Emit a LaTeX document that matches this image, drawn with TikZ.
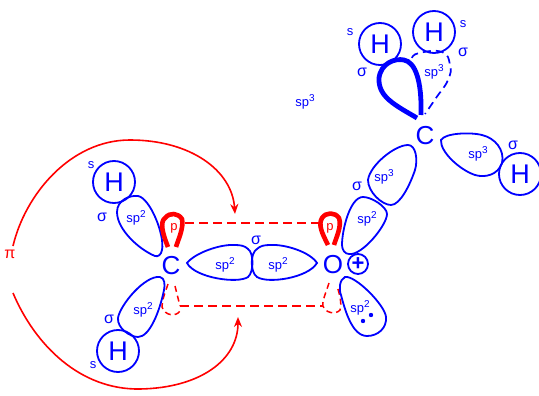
\documentclass[tikz,border=0pt]{standalone}
\usepackage{fontspec}
\setmainfont{Liberation Sans}
\usetikzlibrary{arrows.meta}
\definecolor{bl}{RGB}{0,0,255}
\definecolor{rd}{RGB}{255,0,0}
\tikzset{
 x=1pt,y=-1pt,
 lobe/.style={draw=bl,line width=1.8pt},
 hatom/.style={circle,draw=bl,line width=1.8pt,minimum size=42pt,inner sep=0pt,text=bl,font=\fontsize{27}{27}\selectfont},
 atom/.style={inner sep=0pt,text=bl,font=\fontsize{26}{26}\selectfont},
 small/.style={inner sep=0pt,text=bl,font=\fontsize{13}{13}\selectfont},
 sig/.style={inner sep=0pt,text=bl,font=\fontsize{16}{16}\selectfont},
 pred/.style={inner sep=0pt,text=rd,font=\fontsize{13}{13}\selectfont},
 plobe/.style={draw=rd,line width=4.6pt,line join=round},
 dash red/.style={draw=rd,line width=1.5pt,dash pattern=on 9pt off 5pt},
 dash blue/.style={draw=bl,line width=1.7pt,dash pattern=on 8pt off 5pt},
 curve/.style={draw=rd,line width=1.6pt,-{Stealth[length=10pt,width=8pt]}},
}
\newcommand{\spt}{sp\raisebox{0.35em}{\fontsize{10}{10}\selectfont 2}}
\newcommand{\spd}{sp\raisebox{0.35em}{\fontsize{10}{10}\selectfont 3}}
\begin{document}
\begin{tikzpicture}
\useasboundingbox (0,0) rectangle (539,396);
% coordinates for connectors
\coordinate (ul) at (185,223); \coordinate (ur) at (320,223);
\coordinate (ll) at (180,306); \coordinate (lr) at (323,306);
\coordinate (ta) at (235,214); \coordinate (tb) at (238,317);
\coordinate (s1) at (13,246); \coordinate (s2) at (13,293);
% dashed lobes behind
\draw[dash blue] plot[smooth,tension=0.8] coordinates {(412,58) (419,53) (442,52) (450,65) (448,80) (436,98) (425,114)};
\draw[dash red,dash pattern=on 6pt off 4pt] (329,283) .. controls (325,295) and (322,302) .. (323,306) .. controls (325,313) and (336,315) .. (340,310) .. controls (342,305) and (340,295) .. (337,286);
\draw[dash red,dash pattern=on 6pt off 4pt] (168,284) .. controls (165,293) and (162,300) .. (162,307) .. controls (165,316) and (176,317) .. (180,311);
\draw[dash red,dash pattern=on 6pt off 4pt] (175,286) -- (180,306);
% lobes
\draw[lobe] (155,256) .. controls (140,250) and (117,230) .. (117,212) .. controls (117,200) and (130,195) .. (138,196) .. controls (150,198) and (165,235) .. (162,250) .. controls (161,255) and (158,257) .. (155,256) -- cycle;
\draw[lobe] (160,277) .. controls (165,278) and (165,285) .. (164,290) .. controls (160,310) and (150,337) .. (138,337) .. controls (130,337) and (117,328) .. (118,318) .. controls (120,305) and (145,275) .. (160,277) -- cycle;
\draw[lobe] (187,263) .. controls (195,253) and (220,244) .. (235,245) .. controls (241,245) and (245,246) .. (248,249) .. controls (254,253) and (254,272) .. (248,277) .. controls (238,284) and (195,278) .. (187,263) -- cycle;
\draw[lobe] (317,263) .. controls (310,252) and (285,244) .. (270,245) .. controls (264,245) and (260,246) .. (257,249) .. controls (250,253) and (250,272) .. (257,277) .. controls (268,284) and (308,278) .. (317,263) -- cycle;
\draw[lobe] (342,245) .. controls (342,230) and (350,197) .. (363,197) .. controls (372,197) and (387,207) .. (387,214) .. controls (387,225) and (362,256) .. (349,254) .. controls (345,254) and (342,250) .. (342,245) -- cycle;
\draw[lobe] (345,277) .. controls (339,280) and (339,290) .. (341,295) .. controls (345,310) and (352,336) .. (367,336) .. controls (378,336) and (387,328) .. (386,317) .. controls (385,305) and (355,275) .. (345,277) -- cycle;
\draw[lobe] (408,145) .. controls (416,145) and (418,160) .. (415,170) .. controls (410,185) and (400,205) .. (391,205) .. controls (382,205) and (368,192) .. (368,180) .. controls (370,165) and (395,145) .. (408,145) -- cycle;
\draw[lobe] (441,140) .. controls (445,133) and (470,132) .. (482,135) .. controls (495,138) and (505,150) .. (502,163) .. controls (498,175) and (485,178) .. (475,175) .. controls (460,170) and (440,152) .. (441,140) -- cycle;
% thick lobes
\draw[draw=bl,line width=4.8pt] (417,118) .. controls (395,105) and (378,97) .. (379,78) .. controls (381,63) and (395,58) .. (404,60) .. controls (415,62) and (422,80) .. (421,115);
\draw[plobe] (168,247) .. controls (162,232) and (160,222) .. (165,218) .. controls (170,212) and (178,213) .. (182,219) .. controls (184,228) and (178,240) .. (176,247);
\draw[plobe] (328,245) .. controls (322,233) and (318,225) .. (322,218) .. controls (326,212) and (335,212) .. (339,218) .. controls (342,226) and (336,238) .. (334,245);
% dashed bonds
\draw[dash red] (ul) -- (ur);
\draw[dash red] (ll) -- (lr);
% H atoms
\node[hatom] (h1) at (380,44) {H};
\node[hatom] (h2) at (434,32) {H};
\node[hatom] (h3) at (520,174) {H};
\node[hatom] (h4) at (114,182) {H};
\node[hatom] (h5) at (118,351) {H};
% heavy atoms
\node[atom] (c1) at (425,136) {C};
\node[atom] (c2) at (171,266) {C};
\node[atom] (o1) at (333,265) {O};
\node[circle,draw=bl,line width=1.8pt,minimum size=20pt,inner sep=0pt,text=bl,font=\bfseries\fontsize{22}{22}\selectfont] (plus) at (358,264) {+};
% lobes labels
\node[small] (t1) at (434,72) {\spd};
\node[small] (t2) at (305,102) {\spd};
\node[small] (t3) at (478,154) {\spd};
\node[small] (t4) at (384,177) {\spd};
\node[small] (t5) at (367,219) {\spt};
\node[small] (t6) at (225,265) {\spt};
\node[small] (t7) at (278,265) {\spt};
\node[small] (t8) at (136,218) {\spt};
\node[small] (t9) at (143,310) {\spt};
\node[small] (t10) at (360,308) {\spt};
\node[pred] (p1) at (174,228) {p};
\node[pred] (p2) at (330,228) {p};
% s labels
\node[small] (s_a) at (350,32) {s};
\node[small] (s_b) at (463,24) {s};
\node[small] (s_c) at (91,165) {s};
\node[small] (s_d) at (93,365) {s};
% sigma labels
\node[sig] (g1) at (362,72) {σ};
\node[sig] (g2) at (463,52) {σ};
\node[sig] (g3) at (513,145) {σ};
\node[sig] (g4) at (357,186) {σ};
\node[sig] (g5) at (256,240) {σ};
\node[sig] (g6) at (102,217) {σ};
\node[sig] (g7) at (109,319) {σ};
\node[inner sep=0pt,text=rd,font=\fontsize{16}{16}\selectfont] (pi) at (10,254) {π};
% electrons
\fill[bl] (363,321) circle (2.2pt) (371,315) circle (2.2pt);
% curved arrows
\draw[curve] (s1) .. controls (25,195) and (70,140) .. (130,140) .. controls (190,140) and (232,170) .. (ta);
\draw[curve] (s2) .. controls (35,345) and (80,390) .. (140,389) .. controls (200,388) and (238,360) .. (tb);
\end{tikzpicture}
\end{document}
